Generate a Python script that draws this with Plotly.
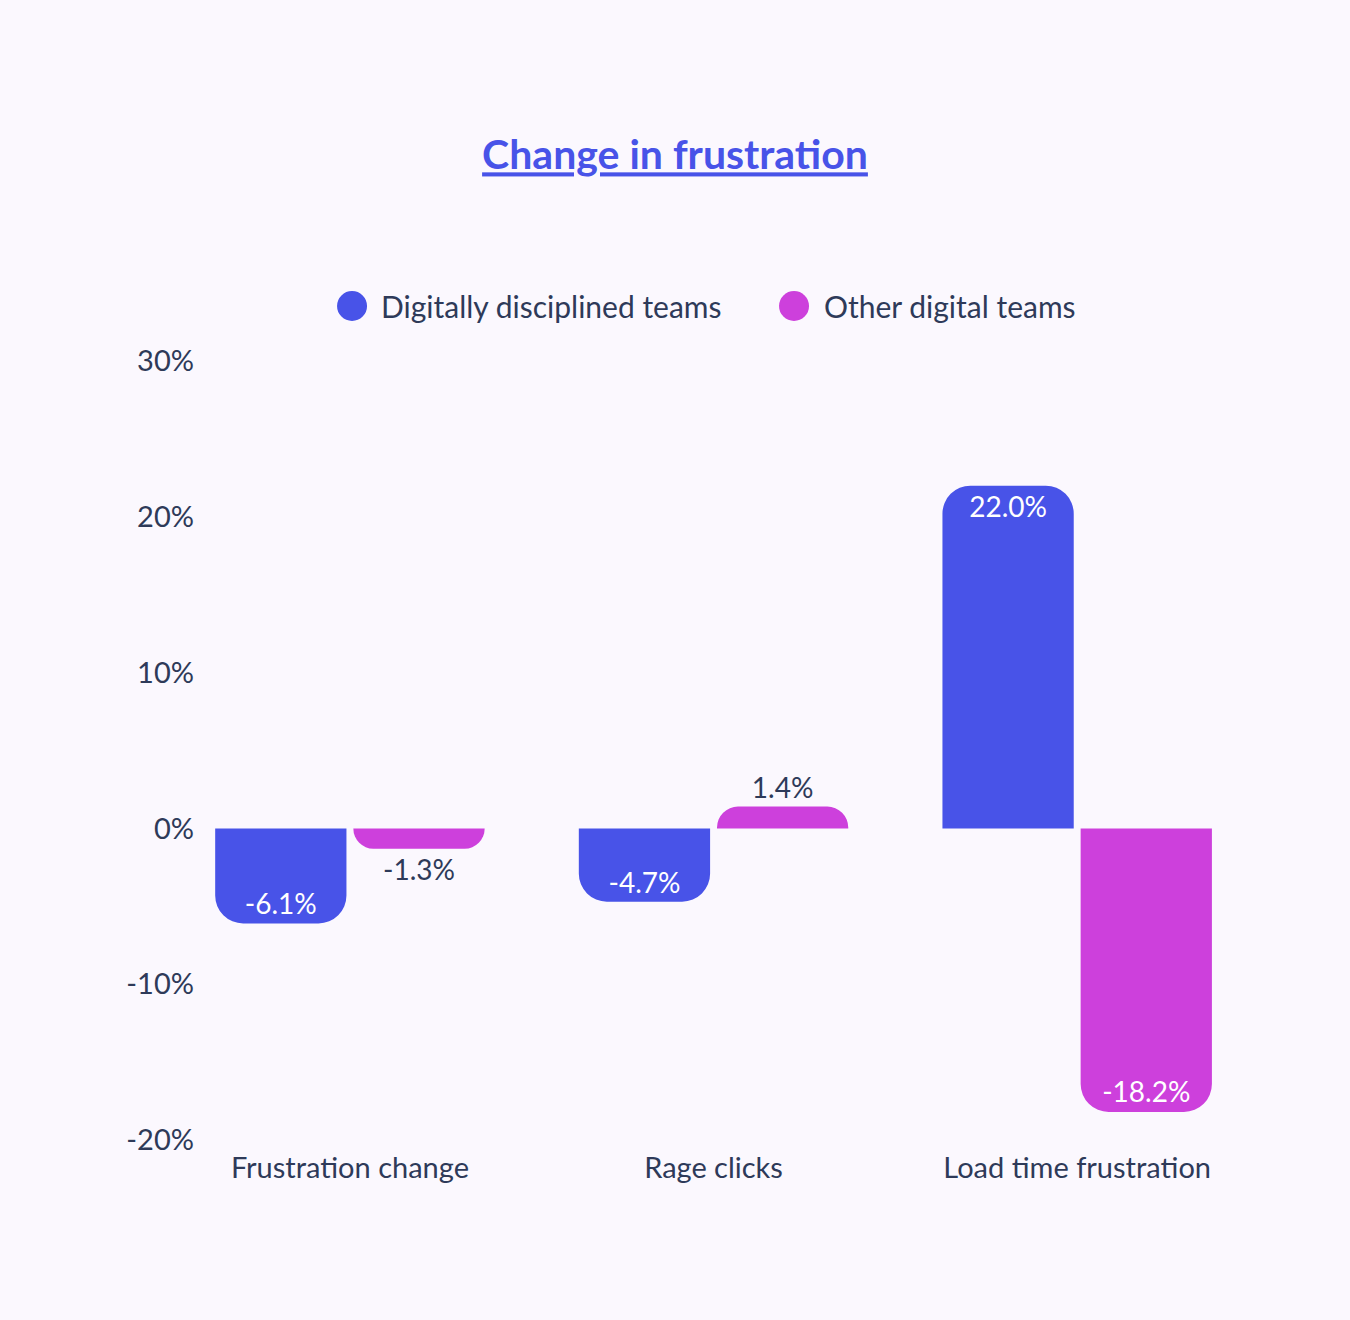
import plotly.graph_objects as go

# --- chart data ---
categories = ["Frustration change", "Rage clicks", "Load time frustration"]
disciplined = [-6.1, -4.7, 22.0]
other = [-1.3, 1.4, -18.2]
series_names = ["Digitally disciplined teams", "Other digital teams"]
y_tickvals = [-20, -10, 0, 10, 20, 30]
y_ticktext = ["-20%", "-10%", "0%", "10%", "20%", "30%"]

BLUE = "#4853E8"
MAGENTA = "#CD40DC"
INK = "#2E3A59"
BG = "#FBF8FE"
FONT = "Lato, sans-serif"

fig = go.Figure()

for name, vals, color in zip(series_names, [disciplined, other], [BLUE, MAGENTA]):
    fig.add_trace(go.Bar(
        x=categories,
        y=vals,
        name=name,
        marker=dict(color=color, line=dict(width=0), cornerradius=28),
        texttemplate="%{y:.1f}%",
        textposition="auto",
        insidetextanchor="end",
        insidetextfont=dict(color="white", size=28, family=FONT),
        outsidetextfont=dict(color=INK, size=28, family=FONT),
        constraintext="none",
        cliponaxis=False,
        showlegend=False,
    ))

# --- hand-made legend with big round markers ---
legend_items = [(0.1476, 0.173), (0.563, 0.589)]
for (cx, tx), name, color in zip(legend_items, series_names, [BLUE, MAGENTA]):
    fig.add_shape(
        type="circle", xref="paper", yref="paper",
        xsizemode="pixel", ysizemode="pixel",
        xanchor=cx, yanchor=1.0706,
        x0=-15, x1=15, y0=-15, y1=15,
        fillcolor=color, line=dict(width=0),
    )
    fig.add_annotation(
        x=tx, y=1.0706, xref="paper", yref="paper",
        text=name, showarrow=False,
        xanchor="left", yanchor="middle",
        font=dict(size=30, color=INK, family=FONT),
    )

fig.update_layout(
    width=1350,
    height=1320,
    paper_bgcolor=BG,
    plot_bgcolor=BG,
    font=dict(family=FONT, size=29, color=INK),
    title=dict(
        text="<b>Change in frustration</b>",
        x=0.5, xref="container", xanchor="center",
        y=1 - 155 / 1320, yref="container", yanchor="middle",
        font=dict(size=41, color=BLUE, family=FONT, lineposition="under"),
    ),
    barmode="group",
    bargap=0.24,
    bargroupgap=0.05,
    margin=dict(l=195, r=91, t=361, b=180),
    showlegend=False,
    xaxis=dict(
        range=[-0.426, 2.5],
        showgrid=False, zeroline=False, showline=False,
        ticks="", tickfont=dict(size=29, color=INK, family=FONT),
        ticklabelstandoff=8,
    ),
    yaxis=dict(
        range=[-20, 30],
        tickmode="array",
        tickvals=y_tickvals,
        ticktext=y_ticktext,
        showgrid=False, zeroline=False, showline=False,
        ticks="", tickfont=dict(size=29, color=INK, family=FONT),
        ticklabelstandoff=0,
    ),
)

# drop the browser's default page margin so the chart fills the window
fig.write_html(
    "out.html",
    config={"displayModeBar": False},
    post_script="document.body.style.margin='0';",
)
